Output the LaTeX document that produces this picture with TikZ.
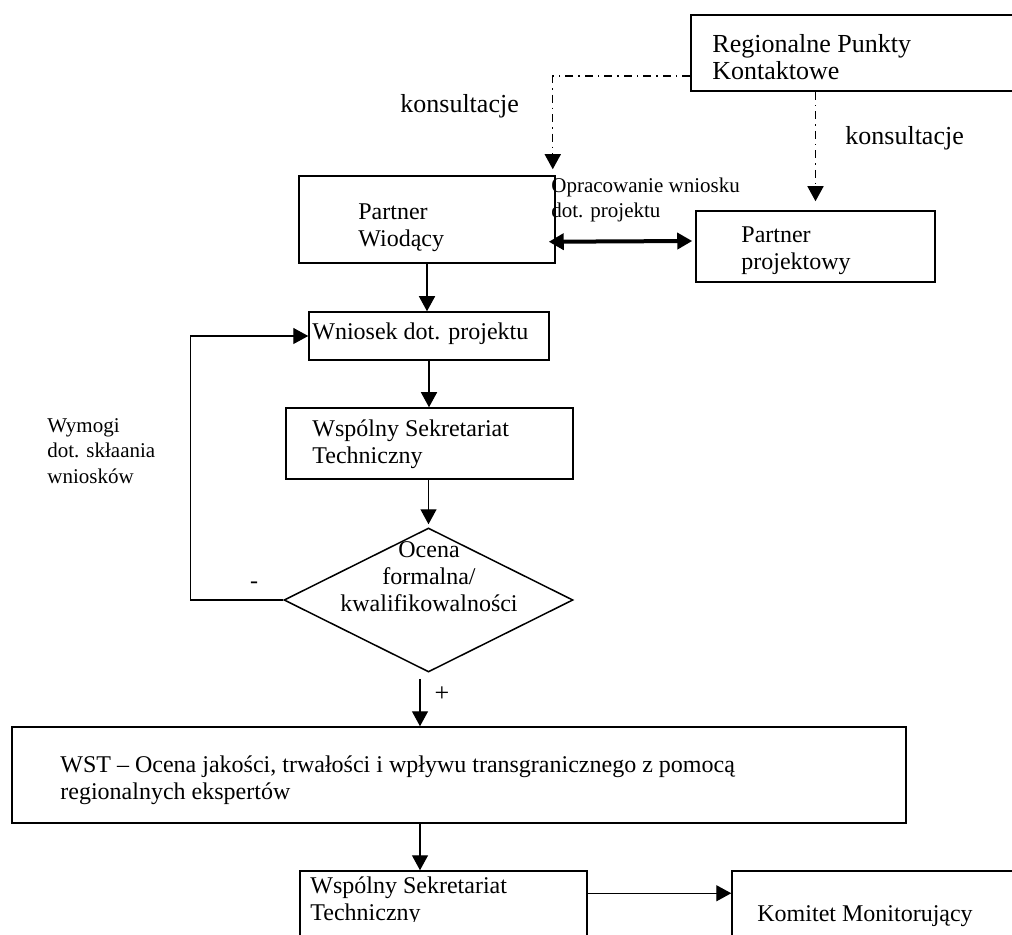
\documentclass[tikz,border=0pt]{standalone}
\usepackage{fontspec}
\setmainfont{Liberation Serif}
\usetikzlibrary{arrows.meta,calc,fit,shapes.geometric}

% multi-line text whose reference point is the baseline of the first line
\newcommand\stack[1]{\begin{tabular}[t]{@{}l@{}}#1\end{tabular}}
\newcommand\cstack[1]{\begin{tabular}[t]{@{}c@{}}#1\end{tabular}}

\begin{document}
\begin{tikzpicture}[x=0.5pt,y=-0.5pt,
  box/.style={draw, line width=0.75pt, rectangle, inner sep=0pt},
  rbox/.style={box, line width=1pt},
  decision/.style={draw, line width=0.75pt, diamond, inner sep=0pt,
    minimum width=144.5pt, minimum height=72pt},
  txt/.style={inner sep=0pt, anchor=base west, font=\fontsize{12}{13.5}\selectfont},
  bigtxt/.style={txt, font=\fontsize{13}{13.5}\selectfont},
  smalltxt/.style={txt, font=\fontsize{10.5}{12.5}\selectfont},
  tip/.tip={Triangle[length=7.5pt,width=8pt]},
  arr/.style={line width=0.7pt, -tip},
  dd/.style={arr, dash pattern=on 4pt off 2.5pt on 0.75pt off 2.5pt},
  dbl/.style={line width=2pt, tip-tip},
]
\useasboundingbox (0,0) rectangle (1012,935);
\clip (0,0) rectangle (1012,935);

% boxes
\node[rbox, fit={(691,15) (1040,91)}] (rpk) {};
\node[box, fit={(299,176) (555,263)}] (pw) {};
\node[box, fit={(696,211) (935,282)}] (pp) {};
\node[box, fit={(309,312) (549,360)}] (wn) {};
\node[box, fit={(286,408) (573,479)}] (wst1) {};
\node[decision] (oc) at (428.5,600) {};
\node[box, fit={(12,727) (906,823)}] (ws) {};
\node[box, fit={(300,871) (587,990)}] (wst2) {};
\node[box, fit={(732,871) (1040,990)}] (km) {};

% texts
\node[bigtxt] (trpk) at (712,53) {\stack{Regionalne Punkty\\Kontaktowe}};
\node[bigtxt] (kons1) at (400,113) {konsultacje};
\node[bigtxt] (kons2) at (845,145) {konsultacje};
\node[txt] (tpw) at (358,220) {\stack{Partner\\Wiodący}};
\node[smalltxt] (topr) at (551,193) {\stack{Opracowanie wniosku\\dot. projektu}};
\node[txt] (tpp) at (741,243) {\stack{Partner\\projektowy}};
\node[txt] (twn) at (312,340) {Wniosek dot. projektu};
\node[txt] (twst1) at (312,437) {\stack{Wspólny Sekretariat\\Techniczny}};
\node[smalltxt] (twym) at (47,433) {\stack{Wymogi\\dot. skłaania\\wniosków}};
\node[txt, anchor=base] (toc) at (429,557) {\cstack{Ocena\\formalna/\\kwalifikowalności}};
\node[txt, anchor=center] (minus) at (254,585) {-};
\node[bigtxt, anchor=center] (plus) at (442,694) {+};
\node[txt] (tws) at (60,772) {\stack{WST -- Ocena jakości, trwałości i wpływu transgranicznego z pomocą\\regionalnych ekspertów}};
\begin{scope}
  \clip (300,871) rectangle (587,921.5);
  \node[txt] (twst2) at (310,893) {\stack{Wspólny Sekretariat\\Techniczny}};
\end{scope}
\node[txt] (tkm) at (757,921) {Komitet Monitorujący};

% consultations
\draw[dd, shorten >=3pt] ($(rpk.south west)+(0,-16)$) -| ($(pw.north east)+(-3,0)$);
\draw[dd, shorten >=4.5pt] (rpk.south -| pp.north) -- (pp.north);

% joint preparation of the application
\draw[dbl] ($(pw.south east)+(-7,-22)$) -- ($(pp.west)+(-3,-5.5)$);

% main flow
\draw[arr] (pw.south) -- (pw.south |- wn.north);
\draw[arr] (wn.south) -- (wn.south |- wst1.north);
\draw[arr, shorten >=1.5pt] (wst1.south -| oc.north) -- (oc.north);
\draw[arr] (oc.west) -- ++(-93,0) |- (wn.west);
\coordinate (pl) at ($(oc.south)+(-8.5,6)$);
\draw[arr] (pl) -- (pl |- ws.north);
\draw[arr] (pl |- ws.south) -- (pl |- wst2.north);
\draw[arr] ($(wst2.north east)+(0,23)$) -- ($(km.north west)+(0,23)$);
\end{tikzpicture}
\end{document}
